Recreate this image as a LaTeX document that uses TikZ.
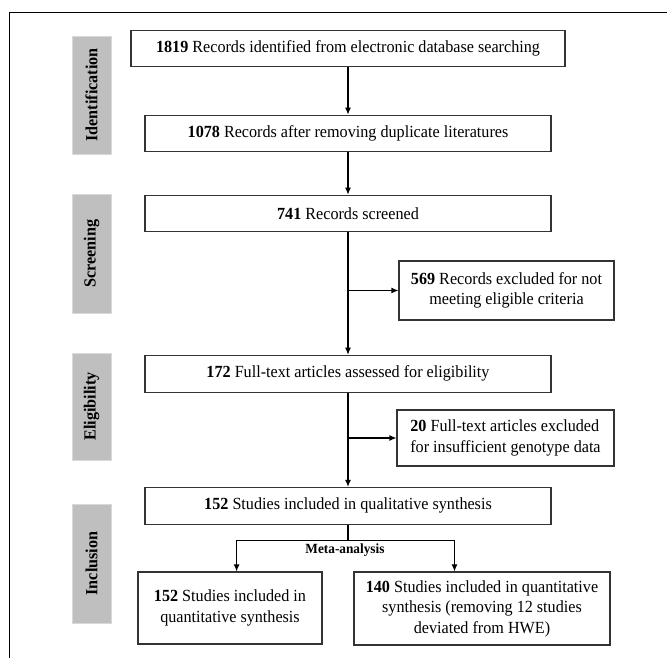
\documentclass[tikz,border=0pt]{standalone}
\usepackage{fontspec}
\setmainfont{Liberation Serif}[FakeStretch=0.95]
\usetikzlibrary{positioning,arrows.meta,calc}

\begin{document}
\begin{tikzpicture}[
    x=1pt, y=1pt,
    node distance=40pt,
    record/.style={rectangle, draw=black!80, line width=1.1pt, minimum width=406pt, minimum height=36pt, align=center, inner sep=2pt, font=\fontsize{17}{20.5}\selectfont},
    stage/.style={rectangle, draw=gray!30, fill=gray!50, line width=0.8pt, minimum height=39pt, rotate=90, inner sep=1pt, font=\fontsize{17}{20}\selectfont\bfseries},
    meta/.style={font=\fontsize{14}{16}\selectfont\bfseries, inner sep=1pt},
    arrow/.style={-{Latex[length=7pt,width=6pt]}, line width=1.1pt}
]
\useasboundingbox (0,0) rectangle (667,658);

% frame
\draw[line width=1.3pt] (9.4,0) -- (9.4,645.3) -- (667,645.3);

% stages
\node[stage, minimum width=118pt] (ident) at (91.5,563) {Identification};
\node[stage, minimum width=119pt] (screen) at (91.5,404.5) {Screening};
\node[stage, minimum width=107pt] (elig) at (91.5,251.5) {Eligibility};
\node[stage, minimum width=119pt] (incl) at (91.5,94.5) {Inclusion};

% main column
\node[record, minimum width=434pt] (n1819) at (348,609.3) {\textbf{1819} Records identified from electronic database searching};
\node[record, below=47.3pt of n1819] (n1078) {\textbf{1078} Records after removing duplicate literatures};
\node[record, below=43pt of n1078] (n741) {\textbf{741} Records screened};
\node[record, below=123pt of n741, minimum height=37pt] (n172) {\textbf{172} Full-text articles assessed for eligibility};
\node[record, below=94pt of n172, minimum height=37pt] (n152) {\textbf{152} Studies included in qualitative synthesis};

% excluded
\node[record, minimum width=215pt, minimum height=59pt] (n569) at (506.5,367.5) {\textbf{569} Records excluded for not\\meeting eligible criteria};
\node[record, minimum width=217pt, minimum height=56pt, align=left] (n20) at (505.5,220) {\textbf{20} Full-text articles excluded\\for insufficient genotype data};

% quantitative
\node[record, minimum width=184pt, minimum height=72pt] (q152) at (230,50) {\textbf{152} Studies included in\\quantitative synthesis};
\node[record, minimum width=256pt, minimum height=73pt] (q140) at (482,49.5) {\textbf{140} Studies included in quantitative\\synthesis (removing 12 studies\\deviated from HWE)};

\coordinate (split) at (n152.south |- 0,117.3);
\node[meta] (meta) at (345,108) {Meta-analysis};

\draw[arrow] (n1819) -- (n1078);
\draw[arrow] (n1078) -- (n741);
\draw[arrow] (n741) -- (n172);
\draw[arrow] (n741.south |- n569) -- (n569);
\draw[arrow] (n172) -- (n152);
\draw[arrow] (n172.south |- n20) -- (n20);
\draw[line width=1.1pt] (n152.south) -- (split);
\draw[arrow] (split) -| ($(q152.north)+(6.6,0)$);
\draw[arrow] (split) -| ($(q140.north)+(-27.5,0)$);

\end{tikzpicture}
\end{document}
